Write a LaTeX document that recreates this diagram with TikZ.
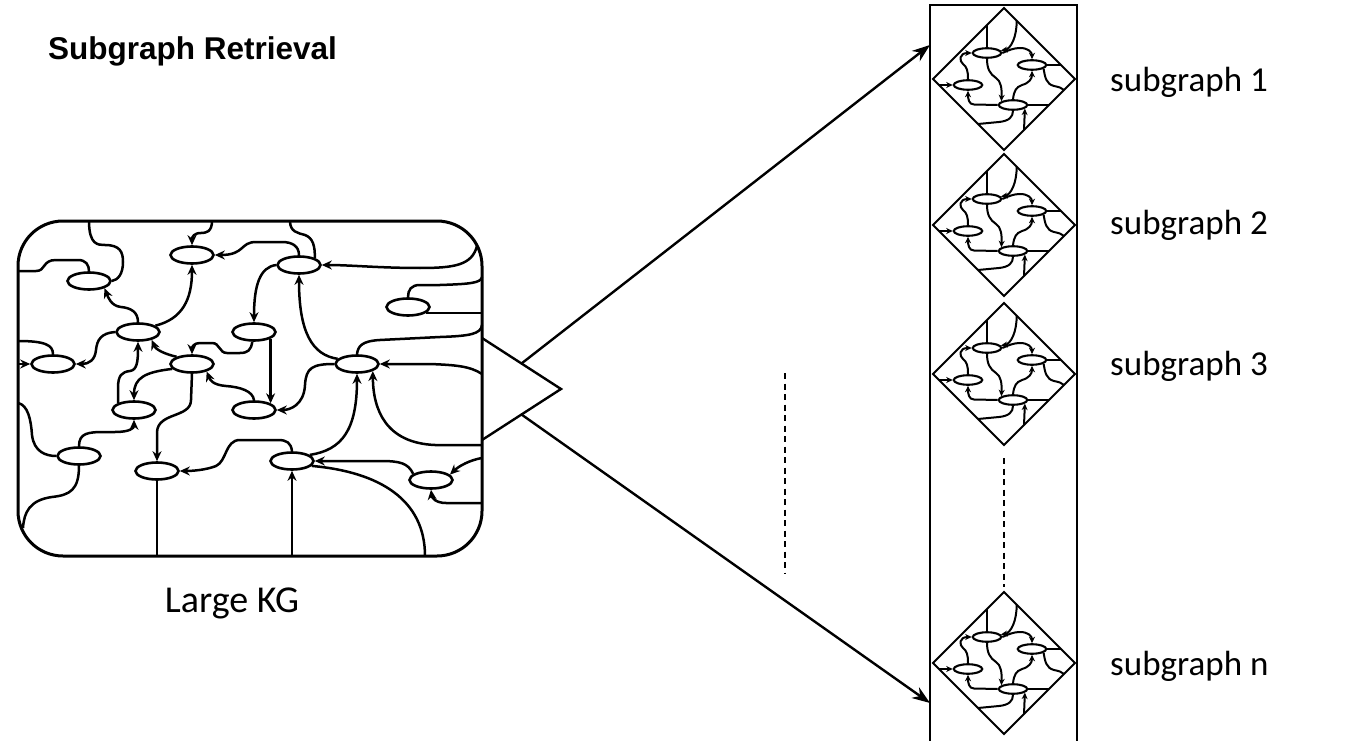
\documentclass[tikz,border=0pt]{standalone}
\usepackage{fontspec}
\setmainfont{Carlito}
\newfontfamily\headfont{Liberation Sans}
\usetikzlibrary{shapes.geometric,arrows.meta,calc}
\tikzset{
  kgnode/.style={draw, ellipse, minimum width=43pt, minimum height=17pt, inner sep=0pt, line width=2.6pt},
  kgedge/.style={line width=2.5pt},
  kgarrow/.style={kgedge, -{Stealth[length=10pt,width=9pt]}},
  sgnode/.style={draw, ellipse, minimum width=28.5pt, minimum height=9.5pt, inner sep=0pt, line width=2.1pt},
  sgedge/.style={line width=2pt},
  sgarrow/.style={sgedge, -{Stealth[length=6.5pt,width=6pt]}},
  bigarrow/.style={line width=2.4pt, -{Stealth[length=18pt,width=13pt]}},
  lbl/.style={font=\fontsize{35}{42}\selectfont, anchor=base west, inner sep=0pt},
  dashline/.style={line width=2.2pt, dash pattern=on 6pt off 4.5pt},
  subg/.pic={
    \draw[sgedge] (0,-71) -- (71,0) -- (0,71) -- (-71,0) -- cycle;
    \node[sgnode] (-p1) at (-17,-26) {};
    \node[sgnode] (-p2) at (28,-14) {};
    \node[sgnode] (-p3) at (-36,6) {};
    \node[sgnode] (-p4) at (9,26) {};
    \draw[sgedge] (-17,-54) -- (-p1.north);
    \draw[sgarrow] (12.7,-58.3) .. controls (12.7,-42) and (7,-30) .. (-p1.10);
    \draw[sgarrow] (-p1.east) .. controls (5,-29) and (10,-31) .. (16,-31) .. controls (24,-31) and (28,-27) .. (-p2.north);
    \draw[sgarrow] (-p3.north) .. controls (-36,-8) and (-37,-12) .. (-41,-15) .. controls (-45,-18) and (-45,-26) .. (-p1.west);
    \draw[sgarrow] (-p1.south) .. controls (-17,-10) and (-14,-5) .. (-8,-1) .. controls (-3,2) and (-2,10) .. (-p4.162);
    \draw[sgarrow] (-65,6) -- (-p3.west);
    \draw[sgarrow] (-p4.west) -- (-30,25.5) .. controls (-35,25.5) and (-36,20) .. (-p3.south);
    \draw[sgarrow] (-p4.north) .. controls (10,12) and (12,8) .. (18,6) .. controls (25,4) and (28,0) .. (-p2.south);
    \draw[sgedge] (-p2.east) -- (57,-14);
    \draw[sgedge] (-p2.-18) .. controls (41,-2) and (42,5) .. (50,7) .. controls (55,8) and (58,9) .. (60,11);
    \draw[sgedge] (-p4.east) -- (45,26);
    \draw[sgedge] (-p4.south) .. controls (9,38) and (5,42) .. (-5,43) -- (-26,45);
    \draw[sgarrow] (20,51) -- (-p4.-17);
  }
}
\begin{document}
\begin{tikzpicture}[x=1pt,y=-1pt]
\useasboundingbox (0,0) rectangle (1345,741);

% title
\node[font=\headfont\bfseries\fontsize{31.5}{38}\selectfont, anchor=base west, inner sep=0pt] (title) at (48,60) {Subgraph Retrieval};

% large KG box
\draw[line width=3pt, rounded corners=45pt] (18,221) rectangle (482,556);
\coordinate (rwall) at (482,0);

\node[kgnode] (A) at (192,255) {};
\node[kgnode] (B) at (89,281) {};
\node[kgnode] (G) at (299,265) {};
\node[kgnode] (H) at (408,307) {};
\node[kgnode] (C) at (138,332) {};
\node[kgnode] (F) at (254,332) {};
\node[kgnode] (D) at (53,364) {};
\node[kgnode] (E) at (192,364) {};
\node[kgnode] (I) at (357,364) {};
\node[kgnode] (J) at (134,410) {};
\node[kgnode] (M) at (254,410) {};
\node[kgnode] (K) at (79,456) {};
\node[kgnode] (N) at (292,461) {};
\node[kgnode] (L) at (157,471) {};
\node[kgnode] (O) at (431,480) {};

\draw[kgedge] (89,221) .. controls (89,245) and (98,245) .. (105,245) .. controls (120,245) and (123,252) .. (123,262) .. controls (123,274) and (118,280) .. (B.east);
\draw[kgarrow] (212,221) .. controls (212,232) and (206,233) .. (201,233) .. controls (194,233) and (192,237) .. (A.north);
\draw[kgarrow] (G.north) .. controls (299,246) and (292,242) .. (282,242) -- (256,242) .. controls (240,242) and (245,255) .. (A.east);
\draw[kgedge] (18,271) -- (36,271) .. controls (46,271) and (42,260) .. (56,260) -- (78,260) .. controls (86,260) and (89,265) .. (B.north);
\draw[kgarrow] (C.north) .. controls (138,312) and (131,308) .. (121,307) .. controls (111,306) and (108,297) .. (B.-25);
\draw[kgarrow] (C.20) .. controls (182,319) and (192,300) .. (A.south);
\draw[kgarrow] (C.west) .. controls (101,333) and (97,340) .. (96,350) .. controls (95,360) and (89,364) .. (D.east);
\draw[kgedge] (18,341) .. controls (45,341) and (53,345) .. (D.north);
\draw[kgarrow] (18,364) -- (D.west);
\draw[kgarrow] (J.156) -- (118,388) .. controls (118,375) and (122,372) .. (130,371) .. controls (137,370) and (138,362) .. (C.south);
\draw[kgarrow] (E.155) .. controls (165,354) and (156,350) .. (C.-30);
\draw[kgarrow] (F.-100) .. controls (251,350) and (248,353) .. (240,353) -- (227,353) .. controls (219,353) and (220,343) .. (212,343) -- (200,343) .. controls (194,343) and (192,347) .. (E.north);
\draw[kgarrow] (G.west) .. controls (260,267) and (254,285) .. (F.north);
\draw[kgarrow] (M.north) .. controls (253,391) and (240,387) .. (226,386) .. controls (213,385) and (210,380) .. (E.-27);
\draw[kgarrow] (E.south) -- (191,400) .. controls (191,418) and (158,412) .. (157,432) -- (L.north);
\draw[kgarrow] (E.194) .. controls (145,372) and (134,378) .. (J.north);
\draw[kgarrow] (K.north) .. controls (79,433) and (88,432) .. (105,432) -- (115,432) .. controls (130,432) and (134,428) .. (J.south);
\draw[kgedge] (18,403) .. controls (28,405) and (31,420) .. (32,435) .. controls (34,452) and (46,456) .. (K.west);
\draw[kgedge] (K.south) .. controls (79,490) and (70,495) .. (52,497) .. controls (30,500) and (24,512) .. (23,528);
\draw[kgedge] (L.south) -- (157,556);
\draw[kgarrow] (N.north) .. controls (291,443) and (287,440) .. (278,440) -- (240,440) .. controls (225,440) and (227,461) .. (216,466) .. controls (206,470) and (192,471) .. (L.east);
\draw[kgarrow] (F.-22) -- (M.22);
\draw[kgarrow] (I.west) .. controls (312,364) and (306,368) .. (305,385) .. controls (304,405) and (290,410) .. (M.east);
\draw[kgarrow] (N.19) .. controls (342,450) and (357,430) .. (I.south);
\draw[kgarrow] (482,445) -- (435,445) .. controls (386,443) and (373,410) .. (I.-24);
\draw[kgarrow] (O.161) .. controls (408,463) and (400,461) .. (380,461) -- (N.east);
\draw[kgedge] (N.-14) .. controls (380,472) and (425,500) .. (425,556);
\draw[kgarrow] (292,556) -- (N.south);
\draw[kgarrow] (482,458) .. controls (470,460) and (459,466) .. (O.16);
\draw[kgarrow] (482,503) -- (446,503) .. controls (436,503) and (432,498) .. (O.south);
\draw[kgedge] (290,221) .. controls (290,232) and (298,233) .. (305,235) .. controls (313,238) and (315,246) .. (G.24);
\draw[kgarrow] (477,246) .. controls (472,265) and (455,268) .. (420,268) .. controls (380,268) and (350,265) .. (G.east);
\draw[kgarrow] (I.165) .. controls (312,355) and (299,332) .. (G.south);
\draw[kgedge] (482,277) .. controls (481,283) and (470,284) .. (440,285) -- (420,285) .. controls (411,285) and (408,290) .. (H.north);
\draw[kgedge] (H.-19) -- (H.-19 -| rwall);
\draw[kgedge] (482,325) .. controls (481,334) and (470,336) .. (440,337) -- (380,340) .. controls (362,341) and (358,346) .. (I.north);
\draw[kgarrow] (482,374) .. controls (470,366) and (455,365) .. (430,364) -- (I.east);

\node[font=\fontsize{38}{45}\selectfont, anchor=base, inner sep=0pt] (kglabel) at (232,612) {Large KG};

% triangle
\coordinate (tA) at (482,338);
\coordinate (tB) at (561,389);
\coordinate (tC) at (482,440);
\draw[line width=2.4pt] (tA) -- (tB) -- (tC);

% right column
\draw[line width=2.4pt] (930,746) -- (930,5) -- (1077,5) -- (1077,746);
\coordinate (r1) at (930,45);
\coordinate (r2) at (930,703);
\draw[bigarrow] ($(tA)!0.5!(tB)$) -- (r1);
\draw[bigarrow] ($(tC)!0.5!(tB)$) -- (r2);

\pic (s1) at (1004,79) {subg};
\pic (s2) at (1004,225) {subg};
\pic (s3) at (1004,374) {subg};
\pic (sn) at (1004,663) {subg};

% dashed lines
\coordinate (d1a) at (785,373);
\coordinate (d1b) at (785,573);
\draw[dashline] (d1a) -- (d1b);
\coordinate (d2a) at (1004,458);
\coordinate (d2b) at (1004,587);
\draw[dashline] (d2a) -- (d2b);

\node[lbl] (l1) at (1110,92) {subgraph 1};
\node[lbl] (l2) at (1110,234) {subgraph 2};
\node[lbl] (l3) at (1110,375) {subgraph 3};
\node[lbl] (ln) at (1110,675) {subgraph n};
\end{tikzpicture}
\end{document}
